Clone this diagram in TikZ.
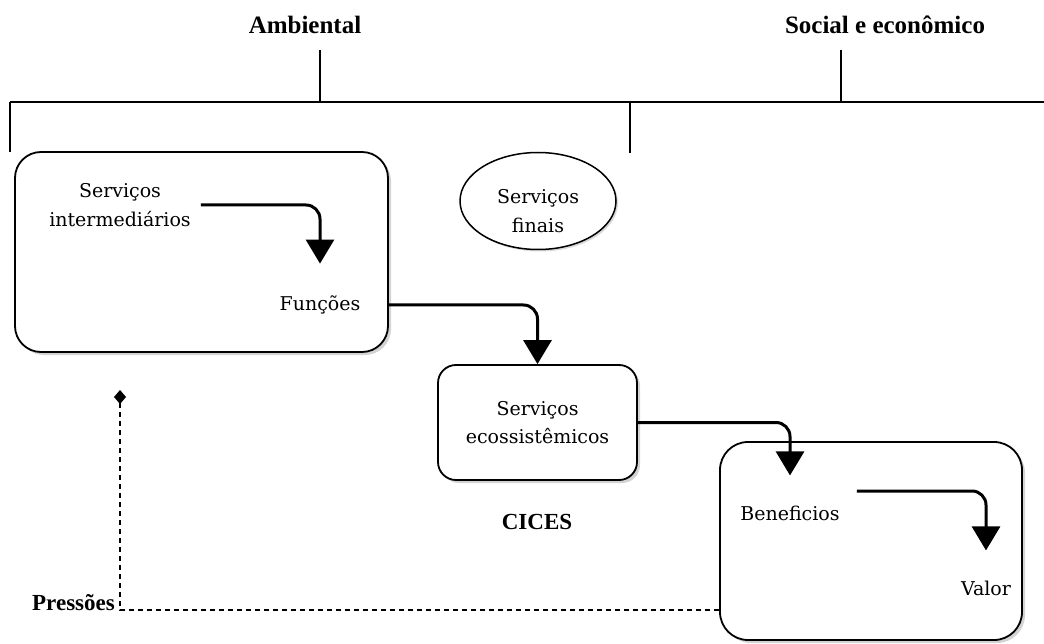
\documentclass[tikz,border=0pt]{standalone}
\usepackage{fontspec}
\setmainfont{Liberation Serif}
\newfontfamily\bodyfont{DejaVu Serif}
\usetikzlibrary{arrows.meta,shadows,shapes.geometric}
\begin{document}
\begin{tikzpicture}[x=1pt,y=-1pt,
  box/.style={draw, line width=1.8pt, fill=white,
    drop shadow={shadow xshift=3pt,shadow yshift=-3pt,opacity=0.35}},
  txt/.style={font=\bodyfont\fontsize{19}{28.5}\selectfont, align=center, inner sep=2pt},
  boldtxt/.style={font=\fontsize{23}{28}\selectfont\bfseries, inner sep=2pt},
  head/.style={font=\fontsize{25}{30}\selectfont\bfseries, inner sep=2pt},
  flow/.style={line width=3pt, rounded corners=14pt, -{Triangle[length=24pt,width=28pt]}},
  bar/.style={line width=1.4pt},
  press/.style={line width=1.4pt, dash pattern=on 5pt off 4pt,
    {Diamond[length=14pt,width=12pt]}-}
]
\useasboundingbox (0,0) rectangle (1044,644);

% headings and bracket bar
\node[head] (amb) at (305,25) {Ambiental};
\node[head] (soc) at (885,25) {Social e econômico};
\draw[bar] (10,102) -- (1044,102);
\draw[bar] (320,50) -- (320,102);
\draw[bar] (841,50) -- (841,102);
\draw[bar] (10,102) -- (10,152);
\draw[bar] (630,102) -- (630,153);

% containers
\node[box, rounded corners=26pt, minimum width=373pt, minimum height=200pt] (b1) at (201.5,252) {};
\node[box, rounded corners=18pt, minimum width=199pt, minimum height=115pt] (b2) at (537.5,422.5) {};
\node[box, rounded corners=28pt, minimum width=302pt, minimum height=198pt] (b3) at (871,541) {};
\node[draw, ellipse, line width=1.5pt, fill=white, minimum width=156pt, minimum height=97pt,
  drop shadow={shadow xshift=2pt,shadow yshift=-2pt,opacity=0.3}] (sf) at (538,201) {};

% labels
\node[txt] (si) at (120,205) {Serviços\\intermediários};
\node[txt] (fn) at (320,305) {Funções};
\node[txt] (sft) at (538,211) {Serviços\\finais};
\node[txt] (se) at (537.5,422.5) {Serviços\\ecossistêmicos};
\node[boldtxt] (ci) at (537,522) {CICES};
\node[txt] (ben) at (790,513) {Beneficios};
\node[txt] (val) at (986,588) {Valor};
\node[boldtxt, anchor=east] (pl) at (117,603) {Pressões};

% flow arrows
\draw[flow] ([xshift=8pt]si.east) -| ([yshift=30pt]fn.north);
\draw[flow] (b1.east |- fn) -| (b2.north);
\draw[flow] (b2.east) -| ([yshift=28pt]ben.north);
\draw[flow] ([xshift=15pt,yshift=22pt]ben.east) -| ([yshift=28pt]val.north);

% pressure feedback
\coordinate (pr) at (120,390);
\draw[press] (pr) |- (b3.west |- 0,610);
\end{tikzpicture}
\end{document}
